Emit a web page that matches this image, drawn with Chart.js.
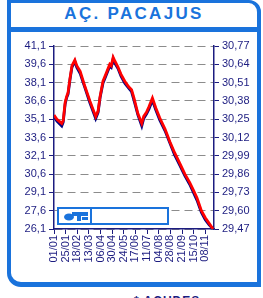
<!DOCTYPE html>
<html>
<head>
<meta charset="utf-8">
<script src="https://cdn.jsdelivr.net/npm/chart.js@4.4.0/dist/chart.umd.min.js"></script>
<style>
  body { margin: 0; background: #fff; width: 263px; height: 298px; overflow: hidden; position: relative; font-family: "Liberation Sans", Arial, sans-serif; }
  #frame { position: absolute; left: 7px; top: 0; width: 246px; height: 279px; border: 4px solid #1a73dc; border-top-width: 3px; border-bottom-width: 5px; border-radius: 0 12px 0 14px; }
  #band { position: absolute; left: 7px; top: 27px; width: 254px; height: 5px; background: #1a73dc; }
  #title { position: absolute; left: 8px; top: 4px; width: 252px; text-align: center; font: bold 17px "Liberation Sans", Arial, sans-serif; letter-spacing: 2.3px; color: #1a73dc; }
  #note { position: absolute; left: 134px; top: 294px; font: bold 12px "Liberation Sans", Arial, sans-serif; color: #1c1c80; white-space: nowrap; letter-spacing: 1px; }
  #chart { position: absolute; left: 0; top: 0; }
</style>
</head>
<body>
<div id="frame"></div>
<div id="band"></div>
<div id="title">AÇ. PACAJUS</div>
<div id="note">* AÇUDES e</div>
<canvas id="chart" width="263" height="298"></canvas>
<script>
'use strict'

//x axis labels (every 24 days)
let xLabels = ['01/01', '25/01', '18/02', '13/03', '06/04', '30/04', '24/05', '17/06', '11/07', '04/08', '28/08', '21/09', '15/10', '08/11'];
//tick labels
let leftTicks = [26.1, 27.6, 29.1, 30.6, 32.1, 33.6, 35.1, 36.6, 38.1, 39.6, 41.1];
let rightTicks = [29.47, 29.60, 29.73, 29.86, 29.99, 30.12, 30.25, 30.38, 30.51, 30.64, 30.77];

//days since 01/01
let days = [0, 6, 16, 19, 23, 26, 29, 33, 37, 43, 47, 54, 64, 74, 86, 91, 95, 101, 107, 115, 118, 122, 126, 132, 138, 146, 154, 160, 165, 173, 181, 185, 191, 196, 203, 210, 218, 229, 239, 249, 259, 270, 280, 287, 295, 304, 312, 320, 328];
//blue series (left axis)
let leftValues = [35.35, 34.95, 34.55, 34.85, 36.35, 36.85, 37.15, 38.35, 39.35, 39.85, 39.35, 38.85, 37.65, 36.45, 35.15, 35.65, 36.85, 38.05, 38.65, 39.45, 39.35, 40.05, 39.65, 39.25, 38.65, 38.05, 37.65, 37.35, 36.65, 35.45, 34.55, 35.15, 35.55, 35.95, 36.65, 35.85, 35.05, 34.15, 33.15, 32.15, 31.35, 30.45, 29.75, 29.15, 28.45, 27.45, 26.85, 26.45, 26.1];
//red series (right axis)
let rightValues = [30.28, 30.25, 30.22, 30.24, 30.37, 30.41, 30.44, 30.54, 30.63, 30.67, 30.63, 30.59, 30.48, 30.38, 30.27, 30.31, 30.41, 30.52, 30.57, 30.64, 30.63, 30.69, 30.66, 30.62, 30.57, 30.52, 30.48, 30.46, 30.40, 30.29, 30.22, 30.27, 30.30, 30.34, 30.40, 30.33, 30.26, 30.18, 30.09, 30.01, 29.94, 29.86, 29.80, 29.75, 29.69, 29.60, 29.55, 29.51, 29.47];

let navy = '#1c1c80';
let frameBlue = '#1a73dc';

function toPoints(vals){
  let pts = [];
  for(let i = 0; i < vals.length; i++){
    pts.push({x: days[i], y: vals[i]});
  }
  return pts;
}

function fmt(v, digits){
  return v.toFixed(digits).replace('.', ',');
}

//legend box in the corner of the plot
let legendBox = {
  id: 'legendBox',
  afterDraw(chart){
    let c = chart.ctx;
    let a = chart.chartArea;
    let x = a.left + 4;
    let y = a.bottom - 21;
    c.save();
    c.fillStyle = '#fff';
    c.fillRect(x, y, 110, 16);
    c.strokeStyle = frameBlue;
    c.lineWidth = 2;
    c.strokeRect(x, y, 110, 16);
    c.beginPath();
    c.moveTo(x + 33, y);
    c.lineTo(x + 33, y + 16);
    c.stroke();
    //little icon
    c.fillStyle = frameBlue;
    c.beginPath();
    c.ellipse(x + 11, y + 9, 5, 3.5, 0, 0, Math.PI * 2);
    c.fill();
    c.fillRect(x + 14, y + 4, 16, 4);
    c.fillRect(x + 19, y + 4, 4, 9);
    c.fillRect(x + 24, y + 9, 6, 3);
    c.restore();
  }
};

new Chart(document.getElementById('chart'), {
  type: 'line',
  data: {
    datasets: [{
      label: 'red',
      data: toPoints(rightValues),
      yAxisID: 'y1',
      borderColor: '#ff0000',
      borderWidth: 2.8,
      pointRadius: 0,
      tension: 0
    },
    {
      label: 'blue',
      data: toPoints(leftValues),
      yAxisID: 'y',
      borderColor: '#000080',
      borderWidth: 2.8,
      pointRadius: 0,
      tension: 0
    }]
  },
  options: {
    responsive: false,
    animation: false,
    devicePixelRatio: 1,
    layout: { padding: { top: 46, left: 0, right: 0, bottom: 0 } },
    plugins: { legend: { display: false }, tooltip: { enabled: false } },
    scales: {
      x: {
        type: 'linear',
        min: 0,
        max: 330,
        afterBuildTicks: (s) => { s.ticks = xLabels.map((l, i) => ({value: i * 24})); },
        afterFit: (s) => { s.height = 69; },
        ticks: {
          autoSkip: false,
          minRotation: 90,
          maxRotation: 90,
          padding: 1,
          color: navy,
          font: { family: 'Liberation Sans', size: 11 },
          callback: (v) => xLabels[Math.round(v / 24)]
        },
        grid: { drawOnChartArea: false, tickLength: 5, tickColor: navy, tickWidth: 1 },
        border: { color: navy, width: 1.5 }
      },
      y: {
        position: 'left',
        min: 26.1,
        max: 41.1,
        afterBuildTicks: (s) => { s.ticks = leftTicks.map(v => ({value: v})); },
        afterFit: (s) => { s.width = 54; },
        ticks: {
          padding: 3,
          color: navy,
          font: { family: 'Liberation Sans', size: 11 },
          callback: (v) => fmt(v, 1)
        },
        grid: { color: '#8c8c8c', lineWidth: 1, tickLength: 5, tickColor: navy, tickWidth: 1 },
        border: { color: navy, width: 1.5, dash: [8, 5] }
      },
      y1: {
        position: 'right',
        min: 29.47,
        max: 30.77,
        afterBuildTicks: (s) => { s.ticks = rightTicks.map(v => ({value: v})); },
        afterFit: (s) => { s.width = 49; },
        ticks: {
          padding: 3,
          color: navy,
          font: { family: 'Liberation Sans', size: 11 },
          callback: (v) => fmt(v, 2)
        },
        grid: { drawOnChartArea: false, tickLength: 5, tickColor: navy, tickWidth: 1 },
        border: { color: navy, width: 1.5 }
      }
    }
  },
  plugins: [legendBox]
});
</script>
</body>
</html>
